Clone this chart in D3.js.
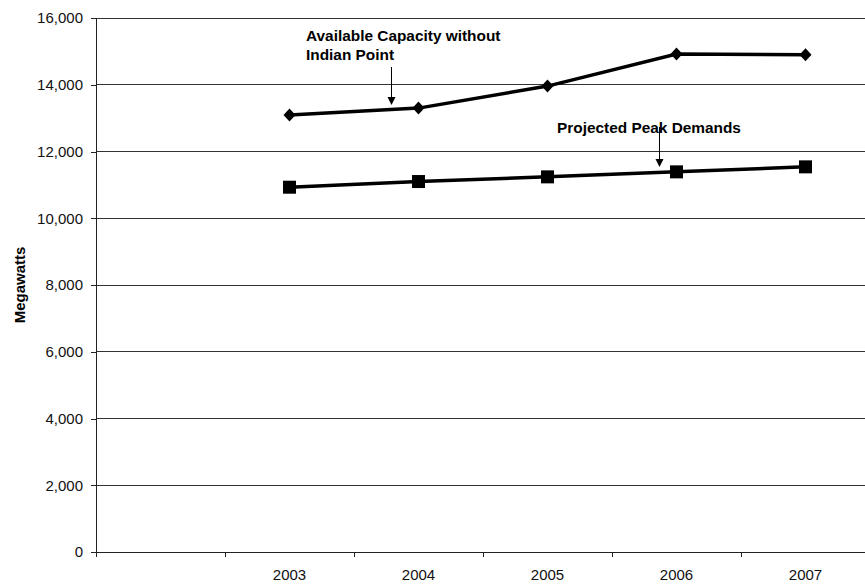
<!DOCTYPE html>
<html>
<head>
<meta charset="utf-8">
<script src="https://cdn.jsdelivr.net/npm/d3@7"></script>
<style>
  body { margin: 0; background: #fff; }
  svg { display: block; font-family: Arial, "Liberation Sans", sans-serif; }
</style>
</head>
<body>
<svg width="865" height="585"></svg>
<script>
// first category is an empty slot, as in the original
const categories = ["", "2003", "2004", "2005", "2006", "2007"];
const years = ["2003", "2004", "2005", "2006", "2007"];
const capacity = [13090, 13300, 13960, 14920, 14900];
const peakDemand = [10930, 11100, 11240, 11390, 11540];
const yTicks = [0, 2000, 4000, 6000, 8000, 10000, 12000, 14000, 16000];

const svg = d3.select("svg");
const m = { left: 96, right: 870, top: 18, bottom: 552 };

const x = d3.scaleBand().domain(categories).range([m.left, m.right]).padding(0);
const y = d3.scaleLinear().domain([0, 16000]).range([m.bottom, m.top]);
const cx = (d) => x(d) + x.bandwidth() / 2;

// gridlines
svg.append("g")
  .selectAll("line")
  .data(yTicks.slice(1))
  .enter()
  .append("line")
  .attr("x1", m.left).attr("x2", m.right)
  .attr("y1", (d) => y(d)).attr("y2", (d) => y(d))
  .attr("stroke", "#333").attr("stroke-width", 1)
  .attr("shape-rendering", "crispEdges");

// y axis
const yAxis = svg.append("g")
  .attr("transform", "translate(" + m.left + ",0)")
  .call(d3.axisLeft(y).tickValues(yTicks).tickSize(5).tickPadding(8).tickFormat(d3.format(",")));
yAxis.select(".domain").attr("stroke", "#222").attr("shape-rendering", "crispEdges");
yAxis.selectAll(".tick line").attr("stroke", "#222").attr("shape-rendering", "crispEdges");
yAxis.selectAll("text").attr("font-size", 15).attr("fill", "#111")
  .attr("font-family", "Arial, 'Liberation Sans', sans-serif");

// x axis: ticks at band edges, labels at band centres
const xg = svg.append("g");
xg.append("line")
  .attr("x1", m.left).attr("x2", m.right)
  .attr("y1", m.bottom).attr("y2", m.bottom)
  .attr("stroke", "#222").attr("shape-rendering", "crispEdges");
xg.selectAll("line.tk")
  .data(categories)
  .enter()
  .append("line")
  .attr("class", "tk")
  .attr("x1", (d) => x(d)).attr("x2", (d) => x(d))
  .attr("y1", m.bottom).attr("y2", m.bottom + 5)
  .attr("stroke", "#222").attr("shape-rendering", "crispEdges");
xg.selectAll("text")
  .data(categories)
  .enter()
  .append("text")
  .attr("x", (d) => cx(d))
  .attr("y", 580)
  .attr("text-anchor", "middle")
  .attr("font-size", 15)
  .attr("fill", "#111")
  .text((d) => d);

// y title
svg.append("text")
  .attr("transform", "translate(25,285) rotate(-90)")
  .attr("text-anchor", "middle")
  .attr("font-size", 15)
  .attr("font-weight", "bold")
  .text("Megawatts");

// lines
const line = d3.line().x((d, i) => cx(years[i])).y((d) => y(d));

svg.append("path")
  .datum(capacity)
  .attr("d", line)
  .attr("fill", "none").attr("stroke", "#000").attr("stroke-width", 3.5);

svg.append("path")
  .datum(peakDemand)
  .attr("d", line)
  .attr("fill", "none").attr("stroke", "#000").attr("stroke-width", 3.5);

// markers
svg.append("g")
  .selectAll("path")
  .data(capacity)
  .enter()
  .append("path")
  .attr("transform", (d, i) => "translate(" + cx(years[i]) + "," + y(d) + ")")
  .attr("d", "M0,-6.5L6,0L0,6.5L-6,0Z")
  .attr("fill", "#000");

svg.append("g")
  .selectAll("rect")
  .data(peakDemand)
  .enter()
  .append("rect")
  .attr("x", (d, i) => cx(years[i]) - 6.5)
  .attr("y", (d) => y(d) - 6.5)
  .attr("width", 13).attr("height", 13)
  .attr("fill", "#000");

// annotations
const ann = svg.append("g").attr("font-size", 15.4).attr("font-weight", "bold").attr("fill", "#000");
ann.append("text").attr("x", 306).attr("y", 41).text("Available Capacity without");
ann.append("text").attr("x", 306).attr("y", 60).text("Indian Point");
ann.append("text").attr("x", 557).attr("y", 133).text("Projected Peak Demands");

const arrow = (ax, y1, y2) => {
  svg.append("line")
    .attr("x1", ax).attr("x2", ax).attr("y1", y1).attr("y2", y2 - 7)
    .attr("stroke", "#000").attr("stroke-width", 1);
  svg.append("path")
    .attr("d", "M" + (ax - 4) + "," + (y2 - 8) + "L" + (ax + 4) + "," + (y2 - 8) + "L" + ax + "," + y2 + "Z")
    .attr("fill", "#000");
};
arrow(391.5, 67, 105);
arrow(659.5, 127, 167);
</script>
</body>
</html>
